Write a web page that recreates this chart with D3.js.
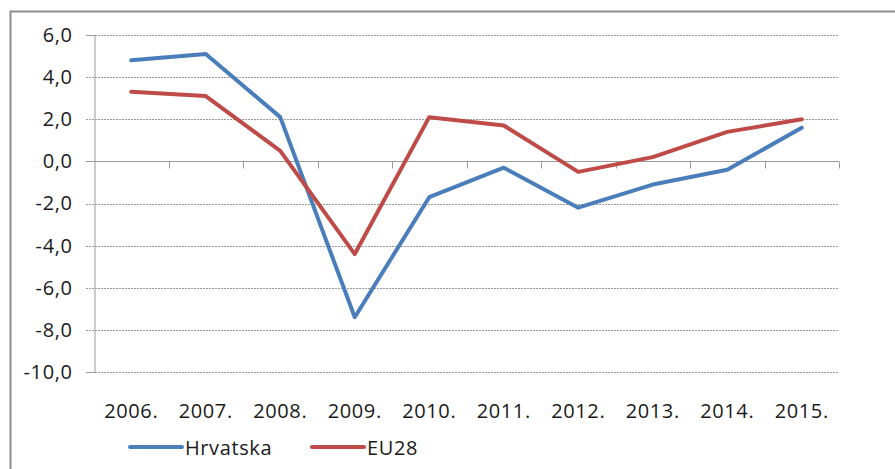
<!DOCTYPE html>
<html>
<head>
<meta charset="utf-8">
<script src="https://cdn.jsdelivr.net/npm/d3@7"></script>
<style>
  body { margin: 0; background: #fff; }
  svg text { font-family: "Open Sans", "Noto Sans", sans-serif; fill: #1a1a1a; letter-spacing: 0.6px; }
</style>
</head>
<body>
<div id="chart"></div>
<script>
// data //
const years = ['2006.', '2007.', '2008.', '2009.', '2010.', '2011.', '2012.', '2013.', '2014.', '2015.']
const hrvatska = [4.8, 5.1, 2.1, -7.4, -1.7, -0.3, -2.2, -1.1, -0.4, 1.6]
const eu28 = [3.3, 3.1, 0.5, -4.4, 2.1, 1.7, -0.5, 0.2, 1.4, 2.0]
const yTicks = [6, 4, 2, 0, -2, -4, -6, -8, -10]
const seriesNames = ['Hrvatska', 'EU28']

const colors = { Hrvatska: '#4a7ebb', EU28: '#be4b48' }

// svg //
const width = 895
const height = 469
const plot = { left: 94, right: 839, top: 35, bottom: 372 }
const fontSize = '20px'

const svg = d3.select('#chart').append('svg')
  .attr('width', width)
  .attr('height', height)

// outer frame
svg.append('rect')
  .attr('x', 10.5)
  .attr('y', 11.5)
  .attr('width', 920)
  .attr('height', 500)
  .attr('fill', 'none')
  .attr('stroke', '#8c8c8c')
  .attr('stroke-width', 2)

const x = d3.scaleBand()
  .domain(years)
  .range([plot.left, plot.right])

const y = d3.scaleLinear()
  .domain([-10, 6])
  .range([plot.bottom, plot.top])

// gridlines
svg.append('g')
  .selectAll('line')
  .data(yTicks.filter(d => d !== 0))
  .enter()
  .append('line')
  .attr('x1', plot.left - 8)
  .attr('x2', plot.right)
  .attr('y1', d => Math.round(y(d)) + 0.5)
  .attr('y2', d => Math.round(y(d)) + 0.5)
  .attr('stroke', '#9a9a9a')
  .attr('stroke-dasharray', '2,1')

// y axis
const fmt = d => d3.format('.1f')(d).replace('.', ',').replace('\u2212', '-')
const yAxis = svg.append('g')
  .attr('transform', `translate(${plot.left + 0.5}, 0)`)
  .call(d3.axisLeft(y).tickValues(yTicks).tickSize(8).tickFormat(fmt))
yAxis.select('.domain').attr('stroke', '#9a9a9a')
yAxis.selectAll('.tick line').attr('stroke', 'none')
yAxis.selectAll('.tick text')
  .attr('x', -22)
  .style('font-size', fontSize)

// zero line with category ticks
const xAxis = svg.append('g')
  .attr('transform', `translate(0, ${Math.round(y(0)) + 0.5})`)
const bounds = d3.range(years.length + 1).map(i => plot.left + i * x.bandwidth())
xAxis.append('line')
  .attr('x1', plot.left - 8)
  .attr('x2', plot.right)
  .attr('stroke', '#9a9a9a')
xAxis.selectAll('.tk')
  .data(bounds.slice(1))
  .enter()
  .append('line')
  .attr('x1', d => Math.round(d) + 0.5)
  .attr('x2', d => Math.round(d) + 0.5)
  .attr('y1', 0)
  .attr('y2', 7)
  .attr('stroke', '#9a9a9a')

// x labels at bottom
svg.append('g')
  .selectAll('text')
  .data(years)
  .enter()
  .append('text')
  .attr('x', d => x(d) + x.bandwidth() / 2)
  .attr('y', 418)
  .attr('text-anchor', 'middle')
  .style('font-size', fontSize)
  .text(d => d)

// lines
const line = d3.line()
  .x((d, i) => x(years[i]) + x.bandwidth() / 2)
  .y(d => y(d))

const series = [hrvatska, eu28]
svg.append('g')
  .selectAll('path')
  .data(series)
  .enter()
  .append('path')
  .attr('d', d => line(d))
  .attr('fill', 'none')
  .attr('stroke', (d, i) => colors[seriesNames[i]])
  .attr('stroke-width', 4)
  .attr('stroke-linejoin', 'round')
  .attr('stroke-linecap', 'round')

// legend
const legendX = [130, 312]
const legend = svg.append('g')
seriesNames.forEach((name, i) => {
  legend.append('line')
    .attr('x1', legendX[i])
    .attr('x2', legendX[i] + 52)
    .attr('y1', 447)
    .attr('y2', 447)
    .attr('stroke', colors[name])
    .attr('stroke-width', 4)
    .attr('stroke-linecap', 'round')
  legend.append('text')
    .attr('x', legendX[i] + 55)
    .attr('y', 455)
    .style('font-size', fontSize)
    .text(name)
})
</script>
</body>
</html>
